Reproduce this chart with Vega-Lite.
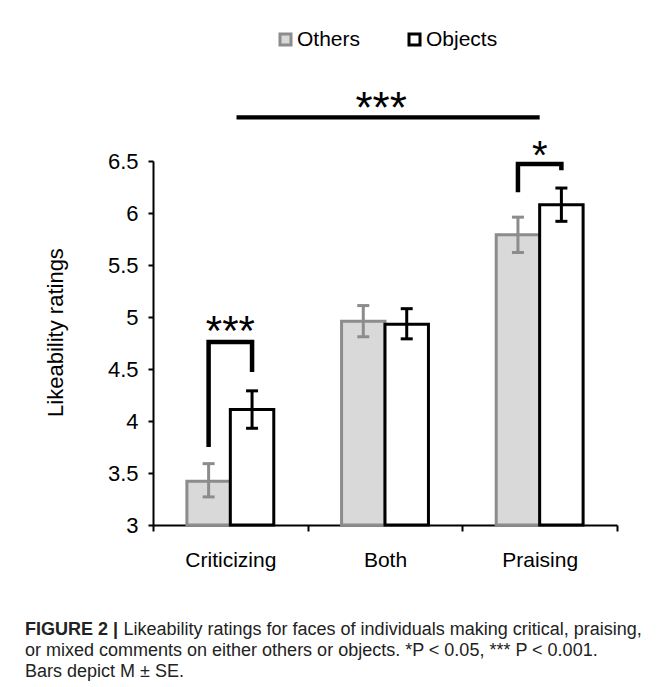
{
  "$schema": "https://vega.github.io/schema/vega-lite/v6.json",
  "width": 464,
  "height": 364,
  "autosize": {"type": "none"},
  "padding": {"left": 153, "top": 161, "right": 40, "bottom": 162},
  "background": "white",
  "config": {"font": "Liberation Sans", "view": {"stroke": null}},
  "title": {
    "text": "FIGURE 2 |",
    "subtitle": [
      "or mixed comments on either others or objects. *P < 0.05, *** P < 0.001.",
      "Bars depict M ± SE."
    ],
    "orient": "bottom",
    "anchor": "start",
    "frame": "group",
    "dx": -128,
    "offset": -17,
    "fontSize": 18,
    "fontWeight": "bold",
    "font": "Liberation Sans",
    "color": "#222222",
    "lineHeight": 20.5,
    "subtitleFont": "Liberation Sans",
    "subtitleFontSize": 18,
    "subtitleFontWeight": "normal",
    "subtitleColor": "#222222",
    "subtitleLineHeight": 20.5,
    "subtitlePadding": 3,
    "baseline": "top"
  },
  "datasets": {
    "bars": [
      {"condition": "Criticizing", "target": "Others", "mean": 3.42, "lo": 3.27, "hi": 3.59},
      {"condition": "Criticizing", "target": "Objects", "mean": 4.11, "lo": 3.93, "hi": 4.29},
      {"condition": "Both", "target": "Others", "mean": 4.96, "lo": 4.81, "hi": 5.11},
      {"condition": "Both", "target": "Objects", "mean": 4.93, "lo": 4.79, "hi": 5.08},
      {"condition": "Praising", "target": "Others", "mean": 5.79, "lo": 5.62, "hi": 5.96},
      {"condition": "Praising", "target": "Objects", "mean": 6.08, "lo": 5.92, "hi": 6.24}
    ],
    "brackets": [
      {"bracket": "c", "condition": "Criticizing", "target": "Others", "y": 3.75, "ord": 1},
      {"bracket": "c", "condition": "Criticizing", "target": "Others", "y": 4.76, "ord": 2},
      {"bracket": "c", "condition": "Criticizing", "target": "Objects", "y": 4.76, "ord": 3},
      {"bracket": "c", "condition": "Criticizing", "target": "Objects", "y": 4.47, "ord": 4},
      {"bracket": "p", "condition": "Praising", "target": "Others", "y": 6.2, "ord": 1},
      {"bracket": "p", "condition": "Praising", "target": "Others", "y": 6.47, "ord": 2},
      {"bracket": "p", "condition": "Praising", "target": "Objects", "y": 6.47, "ord": 3},
      {"bracket": "p", "condition": "Praising", "target": "Objects", "y": 6.41, "ord": 4}
    ],
    "stars": [
      {"condition": "Criticizing", "y": 4.73, "label": "***", "size": "big"},
      {"condition": "Praising", "y": 6.42, "label": "*", "size": "small"}
    ],
    "span": [
      {"from": "Criticizing", "to": "Praising", "mid": "Both", "y": 6.92, "ystar": 6.865, "label": "***"}
    ]
  },
  "layer": [
    {
      "data": {"name": "bars"},
      "mark": {"type": "bar", "strokeWidth": 3},
      "encoding": {
        "x": {
          "field": "condition",
          "type": "nominal",
          "scale": {"domain": ["Criticizing", "Both", "Praising"], "paddingInner": 0, "paddingOuter": 0},
          "axis": {
            "labelAngle": 0,
            "labelFontSize": 21,
            "labelColor": "black",
            "labelBaseline": "alphabetic",
            "labelPadding": 35,
            "tickSize": 6,
            "tickWidth": 2,
            "tickColor": "black",
            "tickBand": "extent",
            "domainColor": "black",
            "domainWidth": 2,
            "title": "Likeability ratings for faces of individuals making critical, praising,",
            "titleFontSize": 18,
            "titleFontWeight": "normal",
            "titleColor": "#222222",
            "titleX": -30,
            "titleY": 109,
            "titleAlign": "left",
            "titleBaseline": "alphabetic"
          }
        },
        "xOffset": {
          "field": "target",
          "type": "nominal",
          "scale": {"domain": ["Others", "Objects"], "paddingInner": 0, "paddingOuter": 0.78}
        },
        "y": {
          "field": "mean",
          "type": "quantitative",
          "scale": {"domain": [3, 6.5], "nice": false, "zero": false},
          "axis": {
            "values": [3, 3.5, 4, 4.5, 5, 5.5, 6, 6.5],
            "format": "~g",
            "grid": false,
            "labelFontSize": 22,
            "labelColor": "black",
            "labelPadding": 10,
            "tickSize": 5,
            "tickWidth": 2,
            "tickColor": "black",
            "domainColor": "black",
            "domainWidth": 2,
            "title": "Likeability ratings",
            "titleFontSize": 22,
            "titleFontWeight": "normal",
            "titleColor": "black",
            "titleX": -91,
            "titleY": 171,
            "titleAngle": -90,
            "titleAlign": "center",
            "titleBaseline": "alphabetic"
          }
        },
        "y2": {"datum": 3},
        "fill": {
          "field": "target",
          "type": "nominal",
          "scale": {"domain": ["Others", "Objects"], "range": ["#d9d9d9", "#ffffff"]},
          "legend": {
            "orient": "none",
            "legendX": 122,
            "legendY": -132,
            "direction": "horizontal",
            "title": null,
            "symbolType": "square",
            "symbolSize": 121,
            "symbolStrokeWidth": 3,
            "labelFontSize": 21,
            "labelColor": "black",
            "labelOffset": 1,
            "columnPadding": 42,
            "padding": 0
          }
        },
        "stroke": {
          "field": "target",
          "type": "nominal",
          "scale": {"domain": ["Others", "Objects"], "range": ["#8c8c8c", "#000000"]},
          "legend": {
            "orient": "none",
            "legendX": 122,
            "legendY": -132,
            "direction": "horizontal",
            "title": null,
            "symbolType": "square",
            "symbolSize": 121,
            "symbolStrokeWidth": 3,
            "labelFontSize": 21,
            "labelColor": "black",
            "labelOffset": 1,
            "columnPadding": 42,
            "padding": 0
          }
        }
      }
    },
    {
      "data": {"name": "bars"},
      "mark": {"type": "rule", "strokeWidth": 3},
      "encoding": {
        "x": {"field": "condition", "type": "nominal", "scale": {"domain": ["Criticizing", "Both", "Praising"]}},
        "xOffset": {"field": "target", "type": "nominal"},
        "y": {"field": "lo", "type": "quantitative"},
        "y2": {"field": "hi"},
        "stroke": {"field": "target", "type": "nominal"}
      }
    },
    {
      "data": {"name": "bars"},
      "mark": {"type": "tick", "thickness": 3, "size": 12, "opacity": 1},
      "encoding": {
        "x": {"field": "condition", "type": "nominal", "scale": {"domain": ["Criticizing", "Both", "Praising"]}},
        "xOffset": {"field": "target", "type": "nominal"},
        "y": {"field": "hi", "type": "quantitative"},
        "color": {"field": "target", "type": "nominal", "scale": {"domain": ["Others", "Objects"], "range": ["#8c8c8c", "#000000"]}, "legend": null}
      }
    },
    {
      "data": {"name": "bars"},
      "mark": {"type": "tick", "thickness": 3, "size": 12, "opacity": 1},
      "encoding": {
        "x": {"field": "condition", "type": "nominal", "scale": {"domain": ["Criticizing", "Both", "Praising"]}},
        "xOffset": {"field": "target", "type": "nominal"},
        "y": {"field": "lo", "type": "quantitative"},
        "color": {"field": "target", "type": "nominal", "legend": null}
      }
    },
    {
      "data": {"name": "brackets"},
      "mark": {"type": "line", "color": "black", "strokeWidth": 4.5, "strokeJoin": "miter", "strokeCap": "butt"},
      "encoding": {
        "x": {"field": "condition", "type": "nominal", "scale": {"domain": ["Criticizing", "Both", "Praising"]}},
        "xOffset": {"field": "target", "type": "nominal"},
        "y": {"field": "y", "type": "quantitative"},
        "detail": {"field": "bracket"},
        "order": {"field": "ord", "type": "quantitative"}
      }
    },
    {
      "data": {"name": "stars"},
      "transform": [{"filter": "datum.size === 'big'"}],
      "mark": {"type": "text", "fontSize": 42, "baseline": "alphabetic", "align": "center", "color": "black"},
      "encoding": {
        "x": {"field": "condition", "type": "nominal", "scale": {"domain": ["Criticizing", "Both", "Praising"]}},
        "y": {"field": "y", "type": "quantitative"},
        "text": {"field": "label"}
      }
    },
    {
      "data": {"name": "stars"},
      "transform": [{"filter": "datum.size === 'small'"}],
      "mark": {"type": "text", "fontSize": 40, "baseline": "alphabetic", "align": "center", "color": "black"},
      "encoding": {
        "x": {"field": "condition", "type": "nominal", "scale": {"domain": ["Criticizing", "Both", "Praising"]}},
        "y": {"field": "y", "type": "quantitative"},
        "text": {"field": "label"}
      }
    },
    {
      "data": {"name": "span"},
      "mark": {"type": "rule", "color": "black", "strokeWidth": 4.3},
      "encoding": {
        "x": {"field": "from", "type": "nominal", "bandPosition": 0.54, "scale": {"domain": ["Criticizing", "Both", "Praising"]}},
        "x2": {"field": "to", "bandPosition": 0.5},
        "y": {"field": "y", "type": "quantitative"}
      }
    },
    {
      "data": {"name": "span"},
      "mark": {"type": "text", "fontSize": 44, "baseline": "alphabetic", "align": "center", "color": "black"},
      "encoding": {
        "x": {"field": "mid", "type": "nominal", "bandPosition": 0.475, "scale": {"domain": ["Criticizing", "Both", "Praising"]}},
        "y": {"field": "ystar", "type": "quantitative"},
        "text": {"field": "label"}
      }
    }
  ]
}
